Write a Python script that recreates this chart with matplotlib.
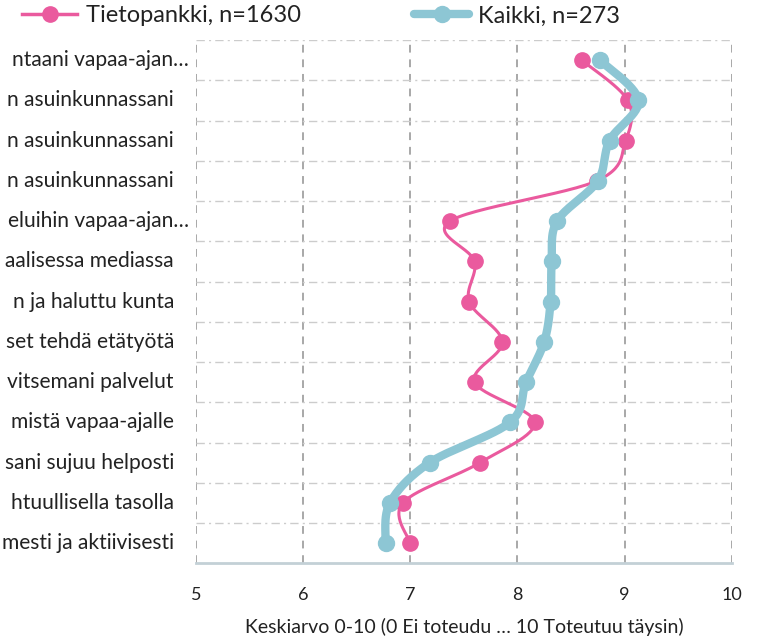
import numpy as np
import matplotlib
matplotlib.use('Agg')
import matplotlib.pyplot as plt
import matplotlib.transforms as mtransforms
from matplotlib.lines import Line2D

categories = [
    "ntaani vapaa-ajan…",
    "n asuinkunnassani",
    "n asuinkunnassani",
    "n asuinkunnassani",
    "eluihin vapaa-ajan…",
    "aalisessa mediassa",
    "n ja haluttu kunta",
    "set tehdä etätyötä",
    "vitsemani palvelut",
    "mistä vapaa-ajalle",
    "sani sujuu helposti",
    "htuullisella tasolla",
    "mesti ja aktiivisesti",
]
tietopankki = [8.60, 9.03, 9.01, 8.74, 7.37, 7.60, 7.55, 7.86, 7.60, 8.16, 7.65, 6.93, 7.00]
kaikki = [8.77, 9.13, 8.86, 8.75, 8.37, 8.32, 8.31, 8.25, 8.08, 7.93, 7.18, 6.81, 6.77]
series_names = ["Tietopankki, n=1630", "Kaikki, n=273"]
xticks = [5, 6, 7, 8, 9, 10]
xlabel = "Keskiarvo 0-10 (0 Ei toteudu … 10 Toteutuu täysin)"

PINK = "#EA5A9E"
BLUE = "#8DC6D4"
TXT = "#222222"

plt.rcParams['font.family'] = ['Lato', 'DejaVu Sans']


def smooth(xs, ys, sx, sy, n=30):
    P = np.column_stack([np.asarray(xs, float) * sx, np.asarray(ys, float) * sy])
    out = []
    for i in range(len(P) - 1):
        p0 = P[i - 1] if i > 0 else P[i]
        p1 = P[i]
        p2 = P[i + 1]
        p3 = P[i + 2] if i + 2 < len(P) else P[i + 1]
        c1 = p1 + (p2 - p0) / 6
        c2 = p2 - (p3 - p1) / 6
        t = np.linspace(0, 1, n)[:, None]
        seg = (1 - t) ** 3 * p1 + 3 * (1 - t) ** 2 * t * c1 + 3 * (1 - t) * t ** 2 * c2 + t ** 3 * p2
        out.append(seg if i == 0 else seg[1:])
    S = np.vstack(out)
    return S[:, 0] / sx, S[:, 1] / sy


fig = plt.figure(figsize=(7.65, 6.4), dpi=100)
ax = fig.add_axes([196 / 765, 1 - 563.3 / 640, (731.7 - 196) / 765, (563.3 - 40) / 640])

y = np.arange(len(categories))
sx, sy = 107.3, 40.25

for vals, color, lw, ms, z in [(tietopankki, PINK, 2.2, 11, 3), (kaikki, BLUE, 6, 11.5, 4)]:
    cx, cy = smooth(vals, y, sx, sy)
    ax.plot(cx, cy, color=color, lw=lw, zorder=z, solid_capstyle='round', solid_joinstyle='round')
    ax.plot(vals, y, linestyle='none', marker='o', ms=ms, color=color, zorder=z + 0.5)

ax.set_xlim(5, 10)
ax.set_ylim(len(categories) - 0.5, -0.5)
ax.set_xticks(xticks)
ax.set_xticklabels([str(t) for t in xticks], fontsize=13, color=TXT)
ax.set_yticks(y)
ax.set_yticklabels([])
ax.set_yticks(np.arange(-0.5, len(categories) - 0.5, 1), minor=True)
ax.tick_params(axis='y', which='both', length=0)
ax.tick_params(axis='x', length=0, pad=17)

# category labels, right-aligned left of the axes
base = mtransforms.blended_transform_factory(ax.transAxes, ax.transData)
for yi, lab in zip(y, categories):
    dx = -7 if lab.endswith('…') else -22
    tr = base + mtransforms.ScaledTranslation(dx / 100, 0, fig.dpi_scale_trans)
    ax.text(0, yi, lab, transform=tr, ha='right', va='center', fontsize=15.1, color=TXT)

ax.grid(axis='x', which='major', color='#A8A8A8', lw=1.4, linestyle=(0, (4, 3.5)), zorder=0)
ax.grid(axis='y', which='minor', color='#CCCCCC', lw=1.0, linestyle=(0, (6, 3, 1.5, 3)), zorder=0)
ax.grid(axis='y', which='major', visible=False)
for s in ['top', 'right', 'left']:
    ax.spines[s].set_visible(False)
ax.spines['bottom'].set_color('#C3D0D6')
ax.spines['bottom'].set_linewidth(2)

ax.set_xlabel(xlabel, fontsize=14, color=TXT, labelpad=11)

handles = [
    Line2D([], [], color=PINK, lw=2.5, marker='o', ms=11),
    Line2D([], [], color=BLUE, lw=6, marker='o', ms=11.5, solid_capstyle='round'),
]
fig.legend(handles, series_names, loc='center', bbox_to_anchor=(0.42, 0.975), ncol=2,
           frameon=False, fontsize=17, handlelength=2.3, columnspacing=4.8, handletextpad=0.4,
           labelcolor=TXT)

fig.savefig('out.png', dpi=100)
